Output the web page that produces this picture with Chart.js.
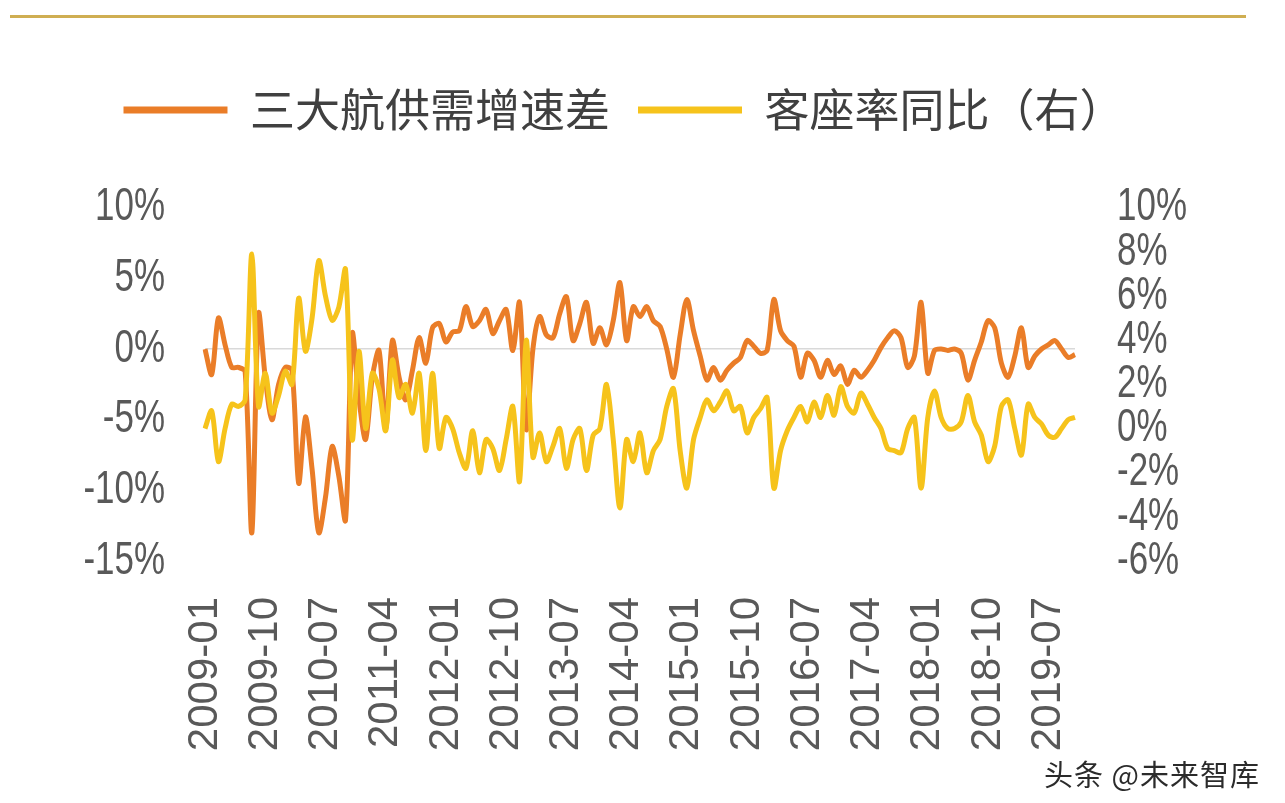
<!DOCTYPE html>
<html lang="zh-CN">
<head>
<meta charset="UTF-8">
<title>三大航供需增速差与客座率同比</title>
<script src="https://cdn.jsdelivr.net/npm/chart.js@4.4.1/dist/chart.umd.min.js"></script>
<style>
*{box-sizing:border-box;margin:0;padding:0}
body{width:1285px;height:803px;background:#fff;position:relative;overflow:hidden;font-family:'Noto Sans CJK SC',sans-serif}
.rule{position:absolute;left:10px;top:15px;width:1236px;height:3px;background:#cfae52}
#chart{position:absolute;left:0;top:0}
.mark{position:absolute;left:1044px;top:752px;font-size:29px;color:#2b2b2b;letter-spacing:1px}
</style>
</head>
<body>
<div class="rule"></div>
<canvas id="chart" width="1285" height="803"></canvas>
<div class="mark">头条 @未来智库</div>
<script>
// monthly categories, 2009-01 .. 2019-11
const months = [
  '2009-01','2009-02','2009-03','2009-04','2009-05','2009-06','2009-07','2009-08','2009-09','2009-10','2009-11','2009-12',
  '2010-01','2010-02','2010-03','2010-04','2010-05','2010-06','2010-07','2010-08','2010-09','2010-10','2010-11','2010-12',
  '2011-01','2011-02','2011-03','2011-04','2011-05','2011-06','2011-07','2011-08','2011-09','2011-10','2011-11','2011-12',
  '2012-01','2012-02','2012-03','2012-04','2012-05','2012-06','2012-07','2012-08','2012-09','2012-10','2012-11','2012-12',
  '2013-01','2013-02','2013-03','2013-04','2013-05','2013-06','2013-07','2013-08','2013-09','2013-10','2013-11','2013-12',
  '2014-01','2014-02','2014-03','2014-04','2014-05','2014-06','2014-07','2014-08','2014-09','2014-10','2014-11','2014-12',
  '2015-01','2015-02','2015-03','2015-04','2015-05','2015-06','2015-07','2015-08','2015-09','2015-10','2015-11','2015-12',
  '2016-01','2016-02','2016-03','2016-04','2016-05','2016-06','2016-07','2016-08','2016-09','2016-10','2016-11','2016-12',
  '2017-01','2017-02','2017-03','2017-04','2017-05','2017-06','2017-07','2017-08','2017-09','2017-10','2017-11','2017-12',
  '2018-01','2018-02','2018-03','2018-04','2018-05','2018-06','2018-07','2018-08','2018-09','2018-10','2018-11','2018-12',
  '2019-01','2019-02','2019-03','2019-04','2019-05','2019-06','2019-07','2019-08','2019-09','2019-10','2019-11'
];

// labels printed under the x axis
const shownTicks = [
  '2009-01','2009-10','2010-07','2011-04','2012-01','2012-10','2013-07','2014-04',
  '2015-01','2015-10','2016-07','2017-04','2018-01','2018-10','2019-07'
];

// 三大航供需增速差 (%, left axis)
const gapDiff = [
   0.0, -1.8,  2.2,  0.3, -1.3, -1.3, -1.6,-13.0,  2.5, -2.0,
  -5.0, -2.5, -1.3, -1.5, -9.5, -4.8, -8.5,-13.0,-10.5, -6.9,
  -9.0,-12.1,  1.1, -3.5, -6.4, -2.0, -0.1, -5.7,  0.6, -2.0,
  -3.6, -1.5,  0.8, -1.0,  1.5,  1.8,  0.5,  1.2,  1.3,  3.0,
   1.6,  2.0,  2.8,  1.1,  2.0,  2.8, -0.1,  3.3, -5.7,  0.0,
   2.3,  1.0,  0.8,  2.5,  3.7,  0.6,  1.8,  3.3,  0.4,  1.5,
   0.3,  2.0,  4.7,  0.6,  3.0,  2.3,  3.0,  2.0,  1.6,  0.0,
  -2.0,  1.0,  3.5,  1.3, -0.5, -2.2, -1.3, -2.2, -1.5, -1.0,
  -0.6,  0.6,  0.2, -0.3, -0.1,  3.5,  1.3,  0.6,  0.2, -2.0,
  -0.3, -0.8, -2.0, -0.8, -1.8, -1.2, -2.5, -1.5, -2.0, -1.5,
  -0.8,  0.1,  0.8,  1.3,  0.8, -1.3, -0.5,  3.3, -1.7, -0.1,
   0.0, -0.1,  0.0, -0.3, -2.2, -0.8,  0.5,  2.0,  1.5, -1.0,
  -2.0, -0.5,  1.5, -1.3, -0.5,  0.0,  0.3,  0.6,  0.0, -0.6, -0.4
];

// 客座率同比 (%, right axis)
const loadYoY = [
   0.0,  0.8, -1.5,  0.0,  1.1,  1.0,  1.3,  7.9,  1.0,  2.5,
   0.7,  1.5,  2.6,  2.0,  5.9,  3.5,  5.0,  7.6,  6.0,  4.9,
   5.5,  7.2, -0.5,  3.5,  0.0,  2.5,  1.8, -0.1,  3.1,  1.4,
   2.0,  0.7,  2.5, -1.0,  2.5, -0.9,  0.5,  0.0, -1.1, -1.8,
  -0.1, -2.0, -0.5, -0.9, -1.9, -0.5,  1.0, -2.4,  4.0, -1.3,
  -0.2, -1.5, -0.8,  0.0, -1.8, -0.5,  0.0, -1.9, -0.3,  0.0,
   2.0, -0.5, -3.6, -0.5, -1.5, -0.2, -2.0, -1.0, -0.5,  1.0,
   1.8, -1.0, -2.7, -0.5,  0.5,  1.3,  0.8,  1.2,  1.7,  0.8,
   1.0, -0.2,  0.5,  0.9,  1.4, -2.7, -1.0, -0.1,  0.5,  1.0,
   0.3,  1.2,  0.5,  1.5,  0.6,  1.9,  1.0,  0.7,  1.6,  1.1,
   0.5,  0.0, -0.9, -1.0, -1.1,  0.0,  0.5, -2.7,  0.5,  1.7,
   0.5,  0.0,  0.0,  0.3,  1.5,  0.3, -0.3, -1.5, -0.8,  1.0,
   1.3,  0.0, -1.2,  1.1,  0.5,  0.2, -0.3, -0.4,  0.0,  0.4,  0.5
];

const ORANGE = '#EA7D28', GOLD = '#F6C31B', TEXT = '#595959';
const pct = v => v + '%';

// value labels of both y axes, drawn horizontally condensed
const squeezedTicks = {
  id: 'squeezedTicks',
  afterDraw(chart) {
    const { ctx, chartArea } = chart;
    ctx.save();
    ctx.fillStyle = TEXT;
    ctx.font = "46px 'Liberation Sans', Arial, sans-serif";
    ctx.textBaseline = 'middle';
    [['y', 'right', chartArea.left - 40], ['y2', 'left', chartArea.right + 42]].forEach(([id, align, x]) => {
      const s = chart.scales[id];
      ctx.textAlign = align;
      s.ticks.forEach(t => {
        ctx.save();
        ctx.translate(x, s.getPixelForValue(t.value));
        ctx.scale(0.76, 1);
        ctx.fillText(pct(t.value), 0, 0);
        ctx.restore();
      });
    });
    ctx.restore();
  }
};

new Chart(document.getElementById('chart'), {
  type: 'line',
  data: {
    labels: months,
    datasets: [{
      label: '三大航供需增速差',
      data: gapDiff,
      yAxisID: 'y',
      borderColor: ORANGE,
      backgroundColor: ORANGE,
      borderWidth: 5,
      pointRadius: 0,
      tension: 0.3,
      order: 2,
    }, {
      label: '客座率同比（右）',
      data: loadYoY,
      yAxisID: 'y2',
      borderColor: GOLD,
      backgroundColor: GOLD,
      borderWidth: 5,
      pointRadius: 0,
      tension: 0.3,
      order: 1,
    }]
  },
  plugins: [squeezedTicks],
  options: {
    responsive: false,
    animation: false,
    layout: { padding: { top: 59.5, left: 0, right: 37, bottom: 0 } },
    plugins: {
      legend: {
        position: 'top',
        labels: {
          boxWidth: 104,
          boxHeight: 7,
          padding: 28,
          color: '#404040',
          font: { family: "'Noto Sans CJK SC'", size: 45 },
          sort: (a, b) => a.datasetIndex - b.datasetIndex,
          generateLabels: chart => Chart.defaults.plugins.legend.labels.generateLabels(chart)
            .map(l => Object.assign(l, { lineWidth: 0 })),
        },
      },
      // blank spacer between legend and plot
      title: { display: true, text: ' ', weight: 500, font: { size: 1 }, padding: { top: 0, bottom: 64 } },
      tooltip: { enabled: false },
    },
    scales: {
      x: {
        grid: { display: false },
        border: { display: false },
        ticks: {
          autoSkip: false,
          minRotation: 90,
          maxRotation: 90,
          padding: 28,
          color: TEXT,
          font: { family: "'Liberation Sans', Arial, sans-serif", size: 42 },
          callback(v) {
            const l = this.getLabelForValue(v);
            return shownTicks.includes(l) ? l : null;
          },
        },
        afterFit(s) { s.height = 242; },
      },
      y: {
        position: 'left',
        min: -15, max: 10,
        ticks: { stepSize: 5, display: false },
        grid: {
          drawTicks: false,
          color: c => c.tick.value === 0 ? '#d9d9d9' : 'rgba(0,0,0,0)',
          lineWidth: 1.5,
        },
        border: { display: false },
        afterFit(s) { s.width = 205; },
      },
      y2: {
        position: 'right',
        min: -6, max: 10,
        ticks: { stepSize: 2, autoSkip: false, display: false },
        grid: { display: false, drawTicks: false },
        border: { display: false },
        afterFit(s) { s.width = 173; },
      },
    },
  },
});
</script>
</body>
</html>
